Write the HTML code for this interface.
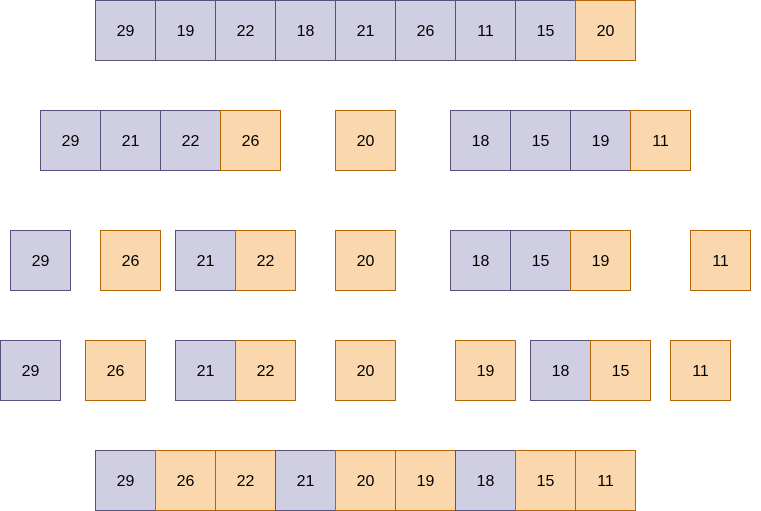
<!DOCTYPE html><html><head><style>
body{margin:0;width:761px;height:511px;background:#fff;position:relative;font-family:"Liberation Sans",sans-serif;overflow:hidden}
.b{position:absolute;width:59px;height:57px;padding-top:2px;box-sizing:content-box;display:flex;align-items:center;justify-content:center;font-size:16px;color:#000}
.p{background:#d0cee2;border:1px solid #56517e}
.o{background:#fad7ac;border:1px solid #b46504}
</style></head><body>
<script>
const rows=[[0,[[95,'p',29],[155,'p',19],[215,'p',22],[275,'p',18],[335,'p',21],[395,'p',26],[455,'p',11],[515,'p',15],[575,'o',20]]],
[110,[[40,'p',29],[100,'p',21],[160,'p',22],[220,'o',26],[335,'o',20],[450,'p',18],[510,'p',15],[570,'p',19],[630,'o',11]]],
[230,[[10,'p',29],[100,'o',26],[175,'p',21],[235,'o',22],[335,'o',20],[450,'p',18],[510,'p',15],[570,'o',19],[690,'o',11]]],
[340,[[0,'p',29],[85,'o',26],[175,'p',21],[235,'o',22],[335,'o',20],[455,'o',19],[530,'p',18],[590,'o',15],[670,'o',11]]],
[450,[[95,'p',29],[155,'o',26],[215,'o',22],[275,'p',21],[335,'o',20],[395,'o',19],[455,'p',18],[515,'o',15],[575,'o',11]]]];
for(const [y,bs] of rows)for(const [x,c,t] of bs)document.write(`<div class="b ${c}" style="left:${x}px;top:${y}px">${t}</div>`);
</script>
</body></html>
